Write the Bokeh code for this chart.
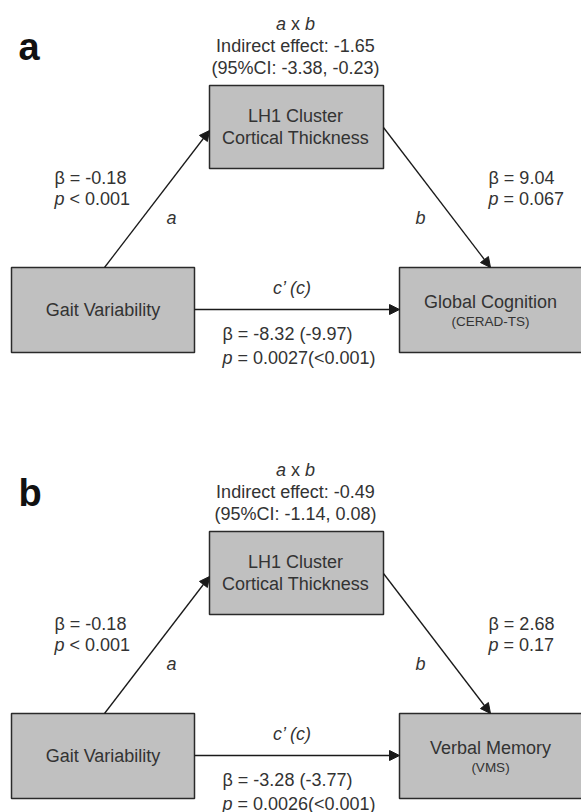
from bokeh.plotting import figure
from bokeh.models import Range1d, ColumnDataSource, Arrow, NormalHead
from bokeh.core.properties import value
from bokeh.embed import file_html
from bokeh.resources import INLINE

# ---------------- data ----------------
panel_labels = ["a", "b"]
mediator_lines = ["LH1 Cluster", "Cortical Thickness"]
predictor_name = "Gait Variability"
outcome_names = ["Global Cognition", "Verbal Memory"]
outcome_subs = ["(CERAD-TS)", "(VMS)"]
indirect_effect = ["-1.65", "-0.49"]
indirect_ci = ["-3.38, -0.23", "-1.14, 0.08"]
a_beta = ["-0.18", "-0.18"]
a_p = ["< 0.001", "< 0.001"]
b_beta = ["9.04", "2.68"]
b_p = ["= 0.067", "= 0.17"]
c_beta = ["-8.32 (-9.97)", "-3.28 (-3.77)"]
c_p = ["= 0.0027(<0.001)", "= 0.0026(<0.001)"]

# ---------------- layout ----------------
W, H = 581, 812
panel_dy = [0, 446]
FONT = value("Liberation Sans")
FS = "18px"
TXT = "#333333"
LINE = "#1a1a1a"
BOX_FILL = "#c0c0c0"
NB = "\u00a0"

p = figure(width=W, height=H, x_range=Range1d(0, W), y_range=Range1d(H, 0),
           output_backend="svg", toolbar_location=None, min_border=0,
           outline_line_color=None)
p.axis.visible = False
p.grid.visible = False
p.background_fill_color = "white"

# boxes
bl, br, bt, bb = [], [], [], []
for dy in panel_dy:
    for (l, r, t, b) in [(209, 383, 85, 168), (11, 194, 267, 352), (399, 582, 267, 352)]:
        bl.append(l); br.append(r); bt.append(t + dy); bb.append(b + dy)
p.quad(left=bl, right=br, top=bt, bottom=bb, fill_color=BOX_FILL,
       line_color="#2a2a2a", line_width=1.5)

# arrows
xs, ys, xe, ye = [], [], [], []
for dy in panel_dy:
    for (x0, y0, x1, y1) in [(104, 267, 209, 130), (383, 127, 490, 267), (194, 309, 399, 309)]:
        xs.append(x0); ys.append(y0 + dy); xe.append(x1); ye.append(y1 + dy)
asrc = ColumnDataSource(dict(xs=xs, ys=ys, xe=xe, ye=ye))
p.add_layout(Arrow(x_start="xs", y_start="ys", x_end="xe", y_end="ye", source=asrc,
                   line_color=LINE, line_width=1.3,
                   end=NormalHead(size=10, fill_color=LINE, line_color=LINE, line_width=1)))


def add_text(x, y, t, align="left", style="normal", size=FS, color=TXT):
    src = ColumnDataSource(dict(x=x, y=y, t=t))
    p.text(x="x", y="y", text="t", source=src, text_align=align, text_baseline="middle",
           text_font=FONT, text_font_size=size, text_font_style=style, text_color=color)


PW = 10  # width of italic "p" / "a" / "b" in px at 18px

for i, dy in enumerate(panel_dy):
    # panel letter
    add_text([18], [46 + dy], [panel_labels[i]], style="bold", size="38px", color="#111111")
    # a x b
    add_text([275.5], [23 + dy], ["a"], style="italic")
    add_text([285.5], [23 + dy], [NB + "x" + NB])
    add_text([304.5], [23 + dy], ["b"], style="italic")
    add_text([295], [45 + dy], ["Indirect effect: " + indirect_effect[i]], align="center")
    add_text([295], [67 + dy], ["(95%CI: " + indirect_ci[i] + ")"], align="center")
    # mediator
    add_text([295, 295], [115 + dy, 137 + dy], mediator_lines, align="center")
    # predictor
    add_text([102.5], [309 + dy], [predictor_name], align="center")
    # outcome
    add_text([490], [301 + dy], [outcome_names[i]], align="center")
    add_text([490], [321 + dy], [outcome_subs[i]], align="center", size="13.5px")
    # path a
    add_text([54], [177 + dy], ["\u03b2 = " + a_beta[i]])
    add_text([54], [198 + dy], ["p"], style="italic")
    add_text([54 + PW], [198 + dy], [NB + a_p[i]])
    add_text([171], [217 + dy], ["a"], style="italic", align="center")
    # path b
    add_text([488], [177 + dy], ["\u03b2 = " + b_beta[i]])
    add_text([488], [198 + dy], ["p"], style="italic")
    add_text([488 + PW], [198 + dy], [NB + b_p[i]])
    add_text([420], [217 + dy], ["b"], style="italic", align="center")
    # path c
    add_text([292], [287 + dy], ["c\u2019 (c)"], style="italic", align="center")
    add_text([222], [333 + dy], ["\u03b2 = " + c_beta[i]])
    add_text([222], [357 + dy], ["p"], style="italic")
    add_text([222 + PW], [357 + dy], [NB + c_p[i]])

open("out.html", "w").write(file_html(p, INLINE))
